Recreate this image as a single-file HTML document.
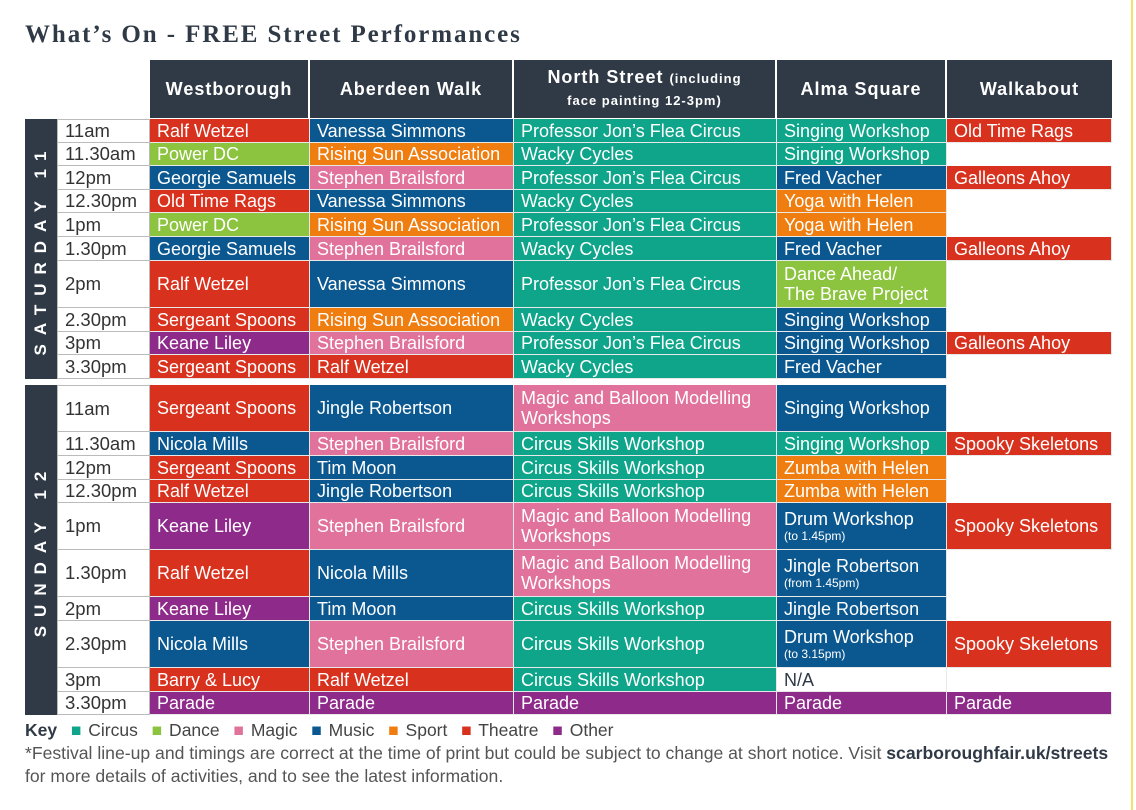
<!DOCTYPE html>
<html><head><meta charset="utf-8"><style>
body{margin:0;width:1136px;height:810px;background:#fff;position:relative;overflow:hidden;font-family:"Liberation Sans",sans-serif}
.c{position:absolute;box-sizing:border-box;display:flex;align-items:center;padding-left:7px;color:#fff;font-size:18px;border-right:1px solid #e8e8e8;border-bottom:1px solid #e8e8e8;white-space:nowrap;line-height:20px;overflow:hidden}
.h{position:absolute;top:60px;height:58px;background:#2f3a46;color:#fff;font-weight:bold;font-size:18px;letter-spacing:1px;display:flex;align-items:center;justify-content:center;text-align:center;border-right:2px solid #fff;box-sizing:border-box}
.t{left:57px;width:93px;color:#333;background:#fff;border:1px solid #bbb;border-top:none;font-size:18.5px}
.w{left:150px;width:160px}.a{left:310px;width:204px}.n{left:514px;width:263px}.l{left:777px;width:170px}.k{left:947px;width:165px}
.R{background:#d8321e}.G{background:#8cc43f}.B{background:#0b5891}.P{background:#e0729b}.T{background:#0fa58a}.O{background:#ef7d10}.U{background:#8e2a8a}
.s{font-size:12px;display:block;line-height:14px}
.day{position:absolute;left:25px;width:32px;background:#2f3a46;color:#fff}
.day span{position:absolute;left:50%;top:50%;transform:translate(-50%,-50%) rotate(-90deg);white-space:nowrap;font-size:17px;letter-spacing:9px;font-weight:bold}
</style></head><body>
<div style="position:absolute;left:25px;top:21px;font-size:25px;font-weight:bold;color:#2f3a46;font-family:'Liberation Serif',serif;letter-spacing:1.9px;white-space:nowrap">What’s On - FREE Street Performances</div>
<div class="h" style="left:150px;width:160px">Westborough</div>
<div class="h" style="left:310px;width:204px">Aberdeen Walk</div>
<div class="h" style="left:514px;width:263px;line-height:20px"><div>North Street <span style="font-size:13px">(including</span><br><span style="font-size:13px">face painting 12-3pm)</span></div></div>
<div class="h" style="left:777px;width:170px">Alma Square</div>
<div class="h" style="left:947px;width:165px;border-right:none">Walkabout</div>

<div class="day" style="top:119px;height:260px"><span>SATURDAY 11</span></div>
<div class="day" style="top:385px;height:330px"><span>SUNDAY 12</span></div>

<!-- Saturday -->
<div class="c t" style="top:119px;height:24px;border-top:1px solid #bbb">11am</div><div class="c w R" style="top:119px;height:24px">Ralf Wetzel</div><div class="c a B" style="top:119px;height:24px">Vanessa Simmons</div><div class="c n T" style="top:119px;height:24px">Professor Jon’s Flea Circus</div><div class="c l T" style="top:119px;height:24px">Singing Workshop</div><div class="c k R" style="top:119px;height:24px">Old Time Rags</div>
<div class="c t" style="top:143px;height:23px">11.30am</div><div class="c w G" style="top:143px;height:23px">Power DC</div><div class="c a O" style="top:143px;height:23px">Rising Sun Association</div><div class="c n T" style="top:143px;height:23px">Wacky Cycles</div><div class="c l T" style="top:143px;height:23px">Singing Workshop</div>
<div class="c t" style="top:166px;height:24px">12pm</div><div class="c w B" style="top:166px;height:24px">Georgie Samuels</div><div class="c a P" style="top:166px;height:24px">Stephen Brailsford</div><div class="c n T" style="top:166px;height:24px">Professor Jon’s Flea Circus</div><div class="c l B" style="top:166px;height:24px">Fred Vacher</div><div class="c k R" style="top:166px;height:24px">Galleons Ahoy</div>
<div class="c t" style="top:190px;height:23px">12.30pm</div><div class="c w R" style="top:190px;height:23px">Old Time Rags</div><div class="c a B" style="top:190px;height:23px">Vanessa Simmons</div><div class="c n T" style="top:190px;height:23px">Wacky Cycles</div><div class="c l O" style="top:190px;height:23px">Yoga with Helen</div>
<div class="c t" style="top:213px;height:24px">1pm</div><div class="c w G" style="top:213px;height:24px">Power DC</div><div class="c a O" style="top:213px;height:24px">Rising Sun Association</div><div class="c n T" style="top:213px;height:24px">Professor Jon’s Flea Circus</div><div class="c l O" style="top:213px;height:24px">Yoga with Helen</div>
<div class="c t" style="top:237px;height:24px">1.30pm</div><div class="c w B" style="top:237px;height:24px">Georgie Samuels</div><div class="c a P" style="top:237px;height:24px">Stephen Brailsford</div><div class="c n T" style="top:237px;height:24px">Wacky Cycles</div><div class="c l B" style="top:237px;height:24px">Fred Vacher</div><div class="c k R" style="top:237px;height:24px">Galleons Ahoy</div>
<div class="c t" style="top:261px;height:47px">2pm</div><div class="c w R" style="top:261px;height:47px">Ralf Wetzel</div><div class="c a B" style="top:261px;height:47px">Vanessa Simmons</div><div class="c n T" style="top:261px;height:47px">Professor Jon’s Flea Circus</div><div class="c l G" style="top:261px;height:47px">Dance Ahead/<br>The Brave Project</div>
<div class="c t" style="top:308px;height:24px">2.30pm</div><div class="c w R" style="top:308px;height:24px">Sergeant Spoons</div><div class="c a O" style="top:308px;height:24px">Rising Sun Association</div><div class="c n T" style="top:308px;height:24px">Wacky Cycles</div><div class="c l B" style="top:308px;height:24px">Singing Workshop</div>
<div class="c t" style="top:332px;height:23px">3pm</div><div class="c w U" style="top:332px;height:23px">Keane Liley</div><div class="c a P" style="top:332px;height:23px">Stephen Brailsford</div><div class="c n T" style="top:332px;height:23px">Professor Jon’s Flea Circus</div><div class="c l B" style="top:332px;height:23px">Singing Workshop</div><div class="c k R" style="top:332px;height:23px">Galleons Ahoy</div>
<div class="c t" style="top:355px;height:24px">3.30pm</div><div class="c w R" style="top:355px;height:24px">Sergeant Spoons</div><div class="c a R" style="top:355px;height:24px">Ralf Wetzel</div><div class="c n T" style="top:355px;height:24px">Wacky Cycles</div><div class="c l B" style="top:355px;height:24px">Fred Vacher</div>

<!-- Sunday -->
<div class="c t" style="top:385px;height:47px;border-top:1px solid #bbb">11am</div><div class="c w R" style="top:385px;height:47px">Sergeant Spoons</div><div class="c a B" style="top:385px;height:47px">Jingle Robertson</div><div class="c n P" style="top:385px;height:47px">Magic and Balloon Modelling<br>Workshops</div><div class="c l B" style="top:385px;height:47px">Singing Workshop</div>
<div class="c t" style="top:432px;height:24px">11.30am</div><div class="c w B" style="top:432px;height:24px">Nicola Mills</div><div class="c a P" style="top:432px;height:24px">Stephen Brailsford</div><div class="c n T" style="top:432px;height:24px">Circus Skills Workshop</div><div class="c l T" style="top:432px;height:24px">Singing Workshop</div><div class="c k R" style="top:432px;height:24px">Spooky Skeletons</div>
<div class="c t" style="top:456px;height:24px">12pm</div><div class="c w R" style="top:456px;height:24px">Sergeant Spoons</div><div class="c a B" style="top:456px;height:24px">Tim Moon</div><div class="c n T" style="top:456px;height:24px">Circus Skills Workshop</div><div class="c l O" style="top:456px;height:24px">Zumba with Helen</div>
<div class="c t" style="top:480px;height:23px">12.30pm</div><div class="c w R" style="top:480px;height:23px">Ralf Wetzel</div><div class="c a B" style="top:480px;height:23px">Jingle Robertson</div><div class="c n T" style="top:480px;height:23px">Circus Skills Workshop</div><div class="c l O" style="top:480px;height:23px">Zumba with Helen</div>
<div class="c t" style="top:503px;height:47px">1pm</div><div class="c w U" style="top:503px;height:47px">Keane Liley</div><div class="c a P" style="top:503px;height:47px">Stephen Brailsford</div><div class="c n P" style="top:503px;height:47px">Magic and Balloon Modelling<br>Workshops</div><div class="c l B" style="top:503px;height:47px"><div>Drum Workshop<span class="s">(to 1.45pm)</span></div></div><div class="c k R" style="top:503px;height:47px">Spooky Skeletons</div>
<div class="c t" style="top:550px;height:47px">1.30pm</div><div class="c w R" style="top:550px;height:47px">Ralf Wetzel</div><div class="c a B" style="top:550px;height:47px">Nicola Mills</div><div class="c n P" style="top:550px;height:47px">Magic and Balloon Modelling<br>Workshops</div><div class="c l B" style="top:550px;height:47px"><div>Jingle Robertson<span class="s">(from 1.45pm)</span></div></div>
<div class="c t" style="top:597px;height:24px">2pm</div><div class="c w U" style="top:597px;height:24px">Keane Liley</div><div class="c a B" style="top:597px;height:24px">Tim Moon</div><div class="c n T" style="top:597px;height:24px">Circus Skills Workshop</div><div class="c l B" style="top:597px;height:24px">Jingle Robertson</div>
<div class="c t" style="top:621px;height:47px">2.30pm</div><div class="c w B" style="top:621px;height:47px">Nicola Mills</div><div class="c a P" style="top:621px;height:47px">Stephen Brailsford</div><div class="c n T" style="top:621px;height:47px">Circus Skills Workshop</div><div class="c l B" style="top:621px;height:47px"><div>Drum Workshop<span class="s">(to 3.15pm)</span></div></div><div class="c k R" style="top:621px;height:47px">Spooky Skeletons</div>
<div class="c t" style="top:668px;height:24px">3pm</div><div class="c w R" style="top:668px;height:24px">Barry &amp; Lucy</div><div class="c a R" style="top:668px;height:24px">Ralf Wetzel</div><div class="c n T" style="top:668px;height:24px">Circus Skills Workshop</div><div class="c l" style="top:668px;height:24px;color:#2f3a46">N/A</div>
<div class="c t" style="top:692px;height:23px">3.30pm</div><div class="c w U" style="top:692px;height:23px">Parade</div><div class="c a U" style="top:692px;height:23px">Parade</div><div class="c n U" style="top:692px;height:23px">Parade</div><div class="c l U" style="top:692px;height:23px">Parade</div><div class="c k U" style="top:692px;height:23px">Parade</div>

<div style="position:absolute;left:25px;top:720px;font-size:17.5px;color:#444;white-space:nowrap;word-spacing:2px">
<b style="color:#2f3a46">Key</b>&nbsp;&nbsp;<span style="color:#0fa58a">■</span> Circus &nbsp;<span style="color:#8cc43f">■</span> Dance &nbsp;<span style="color:#e0729b">■</span> Magic &nbsp;<span style="color:#0b5891">■</span> Music &nbsp;<span style="color:#ef7d10">■</span> Sport &nbsp;<span style="color:#d8321e">■</span> Theatre &nbsp;<span style="color:#8e2a8a">■</span> Other</div>
<div style="position:absolute;left:25px;top:742px;font-size:17.6px;color:#555;line-height:23px;white-space:nowrap">*Festival line-up and timings are correct at the time of print but could be subject to change at short notice. Visit <b style="color:#2f3a46">scarboroughfair.uk/streets</b><br>for more details of activities, and to see the latest information.</div>
<div style="position:absolute;left:1131px;top:0;width:2px;height:810px;background:#f3e36a"></div>
</body></html>
